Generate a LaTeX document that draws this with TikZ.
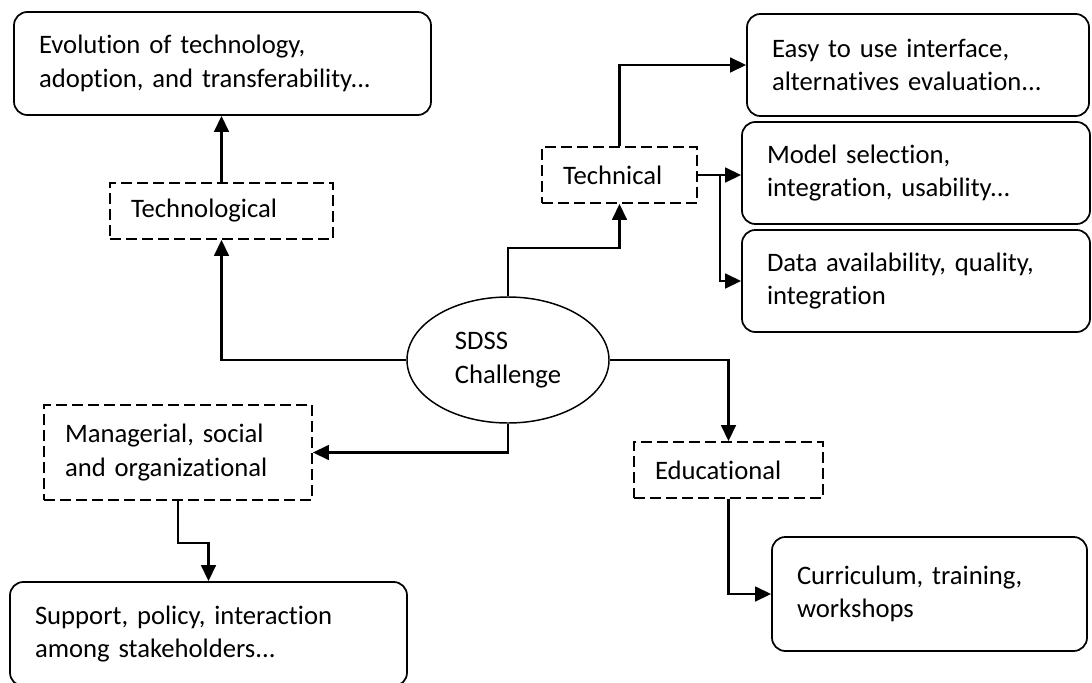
\documentclass[tikz,border=0pt]{standalone}
\usepackage{fontspec}
\setmainfont{Carlito}[Ligatures=NoCommon]
\usetikzlibrary{shapes,arrows.meta,positioning}

\begin{document}
\begin{tikzpicture}[x=0.75pt,y=-0.75pt,->,>={Triangle[length=12pt,width=11pt]},
                    line width=1.8pt,font=\fontsize{20}{25}\selectfont]
  \tikzstyle{topic}=[draw, rounded corners=10pt, line width=1.3pt, align=left,
                     inner xsep=18.75pt, inner ysep=0pt]
  \tikzstyle{area}=[draw, dash pattern=on 8pt off 4pt, line width=1.3pt, align=left,
                    inner xsep=15.75pt, inner ysep=0pt, minimum height=42pt]

 \useasboundingbox (0,0) rectangle (1092,682);

 \node[draw, ellipse, line width=1.1pt, minimum width=151.5pt, minimum height=94.5pt,
       inner sep=0pt, align=left] (challenge) at (508,360) {SDSS\\Challenge};

 \node[area, text width=135.75pt] (techno) at (221.5,211) {Technological};
 \node[area, text width=84.75pt] (techn) at (619.5,175) {Technical};
 \node[area, text width=169.5pt, minimum height=71.25pt] (manag) at (178,452.5)
      {Managerial, social\\and organizational};
 \node[area, text width=110.25pt] (educ) at (728.5,470) {Educational};

 \node[topic, text width=275.25pt, minimum height=77.25pt] (evolution) at (222.5,63.5)
      {Evolution of technology,\\adoption, and transferability...};
 \node[topic, text width=219pt, minimum height=76.5pt] (easy) at (918,65)
      {Easy to use interface,\\alternatives evaluation...};
 \node[topic, text width=223.5pt, minimum height=76.5pt] (model) at (916,173)
      {Model selection,\\integration, usability...};
 \node[topic, text width=223.5pt, minimum height=76.5pt] (data) at (916,281)
      {Data availability, quality,\\integration};
 \node[topic, text width=198.75pt, minimum height=85.5pt] (curric) at (929.5,594)
      {Curriculum, training,\\workshops\\[11pt]};
 \node[topic, text width=260.25pt, minimum height=78pt] (support) at (208.5,634)
      {Support, policy, interaction\\among stakeholders...};

 \draw (challenge.west) -| (techno.south);
 \draw (techno.north) -- (evolution.south -| techno.north);
 \draw (challenge.north) -- ++(0,-48) -| (techn.south);
 \draw (techn.north) |- (easy.west);
 \draw (techn.east) -- (model.west |- techn.east);
 \path (techn.east) ++(22,0) coordinate (split);
 \draw (split) |- (data.west);
 \draw (challenge.south) |- (manag.east);
 \draw (manag.south) -- ++(0,42) -| (support.north);
 \draw (challenge.east) -| (educ.north);
 \draw (educ.south) |- (curric.west);

\end{tikzpicture}
\end{document}
